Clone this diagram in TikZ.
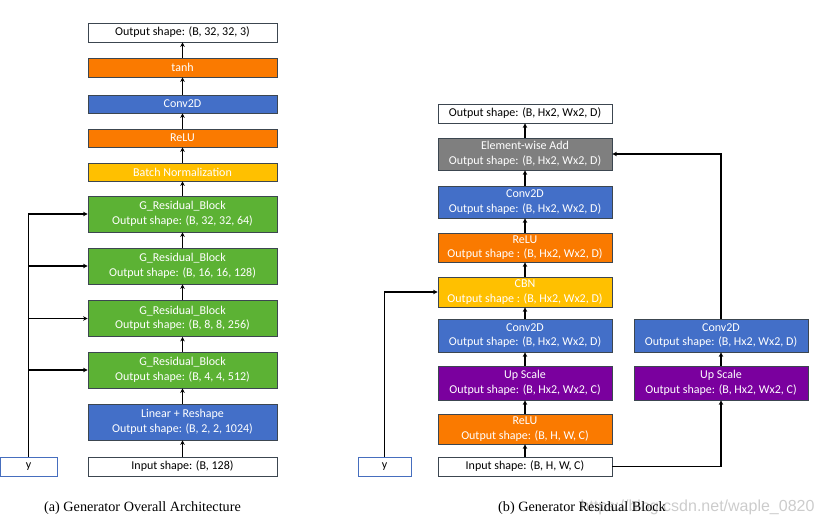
\documentclass[tikz,border=0pt]{standalone}
\usepackage{fontspec}
\setmainfont{Carlito}
\newfontfamily\capfont{Liberation Serif}
\newfontfamily\wmfont{Liberation Sans}
\usepackage{tikz}
\usetikzlibrary{arrows.meta}
\definecolor{boxline}{RGB}{60,70,80}
\definecolor{gorange}{RGB}{250,122,0}
\definecolor{gblue}{RGB}{67,111,200}
\definecolor{ggreen}{RGB}{92,178,52}
\definecolor{gyellow}{RGB}{255,192,0}
\definecolor{gpurple}{RGB}{122,0,158}
\definecolor{ggray}{RGB}{127,127,127}
\definecolor{yline}{RGB}{70,110,190}

\begin{document}
\begin{tikzpicture}[x=1pt,y=-1pt,>={Stealth[length=4.5pt,width=4.5pt]},
  layer/.style={draw=boxline,line width=0.8pt,rectangle,inner sep=0pt,align=center,
    font=\fontsize{12}{14.5}\selectfont,text=white},
  wbox/.style={layer,fill=white,text=black},
  ybox/.style={draw=yline,line width=0.8pt,rectangle,inner sep=0pt,fill=white,
    font=\fontsize{12}{14.5}\selectfont},
  link/.style={->,line width=1.3pt},
  cond/.style={->,line width=1.7pt}]
\useasboundingbox (0,0) rectangle (828,527);

% (a) overall architecture
\node[wbox,minimum width=189,minimum height=19] (outa) at (182.5,32.5) {Output shape: (B, 32, 32, 3)};
\node[layer,fill=gorange,minimum width=189,minimum height=19] (tanh) at (182.5,67.5) {tanh};
\node[layer,fill=gblue,minimum width=189,minimum height=18] (conva) at (182.5,104) {Conv2D};
\node[layer,fill=gorange,minimum width=189,minimum height=18] (relua) at (182.5,138) {ReLU};
\node[layer,fill=gyellow,minimum width=189,minimum height=18] (bn) at (182.5,172) {Batch Normalization};
\node[layer,fill=ggreen,minimum width=189,minimum height=36] (g1) at (182.5,214) {G\_Residual\_Block\\Output shape: (B, 32, 32, 64)};
\node[layer,fill=ggreen,minimum width=189,minimum height=36] (g2) at (182.5,266) {G\_Residual\_Block\\Output shape: (B, 16, 16, 128)};
\node[layer,fill=ggreen,minimum width=189,minimum height=36] (g3) at (182.5,318.5) {G\_Residual\_Block\\Output shape: (B, 8, 8, 256)};
\node[layer,fill=ggreen,minimum width=189,minimum height=36] (g4) at (182.5,370) {G\_Residual\_Block\\Output shape: (B, 4, 4, 512)};
\node[layer,fill=gblue,minimum width=189,minimum height=36] (lin) at (182.5,422) {Linear + Reshape\\Output shape: (B, 2, 2, 1024)};
\node[wbox,minimum width=189,minimum height=19] (ina) at (182.5,466.5) {Input shape: (B, 128)};
\node[ybox,minimum width=57,minimum height=19] (ya) at (28.5,466.5) {y};

\draw[link] (ina) -- (lin); \draw[link] (lin) -- (g4); \draw[link] (g4) -- (g3);
\draw[link] (g3) -- (g2); \draw[link] (g2) -- (g1); \draw[link] (g1) -- (bn);
\draw[link] (bn) -- (relua); \draw[link] (relua) -- (conva); \draw[link] (conva) -- (tanh);
\draw[link] (tanh) -- (outa);
\draw[cond] (ya.north) |- (g1.west);
\foreach \g in {g2,g3,g4} \draw[cond] (ya.north |- \g.west) -- (\g.west);

\node[font=\capfont\fontsize{14.2}{16}\selectfont] (capa) at (142.5,508) {(a) Generator Overall Architecture};

% (b) residual block
\node[wbox,minimum width=174,minimum height=19] (outb) at (525,113.5) {Output shape: (B, Hx2, Wx2, D)};
\node[layer,fill=ggray,minimum width=174,minimum height=32] (add) at (525,154) {Element-wise Add\\Output shape: (B, Hx2, Wx2, D)};
\node[layer,fill=gblue,minimum width=174,minimum height=32] (convb) at (525,202) {Conv2D\\Output shape: (B, Hx2, Wx2, D)};
\node[layer,fill=gorange,minimum width=174,minimum height=29] (relub) at (525,247.5) {ReLU\\Output shape : (B, Hx2, Wx2, D)};
\node[layer,fill=gyellow,minimum width=174,minimum height=30] (cbn) at (525,292) {CBN\\Output shape : (B, Hx2, Wx2, D)};
\node[layer,fill=gblue,minimum width=174,minimum height=33] (convc) at (525,335.5) {Conv2D\\Output shape: (B, Hx2, Wx2, D)};
\node[layer,fill=gpurple,minimum width=174,minimum height=34] (up) at (525,383) {Up Scale\\Output shape: (B, Hx2, Wx2, C)};
\node[layer,fill=gorange,minimum width=174,minimum height=30] (reluc) at (525,429) {ReLU\\Output shape: (B, H, W, C)};
\node[wbox,minimum width=174,minimum height=19] (inb) at (525,466.5) {Input shape: (B, H, W, C)};
\node[ybox,minimum width=53,minimum height=19] (yb) at (384.5,466.5) {y};
\node[layer,fill=gblue,minimum width=174,minimum height=33] (convs) at (721,335.5) {Conv2D\\Output shape: (B, Hx2, Wx2, D)};
\node[layer,fill=gpurple,minimum width=174,minimum height=34] (ups) at (721,383) {Up Scale\\Output shape: (B, Hx2, Wx2, C)};

\draw[link] (inb) -- (reluc); \draw[link] (reluc) -- (up); \draw[link] (up) -- (convc);
\draw[link] (convc) -- (cbn); \draw[link] (cbn) -- (relub); \draw[link] (relub) -- (convb);
\draw[link] (convb) -- (add); \draw[link] (add) -- (outb);
\draw[link] (yb.north) |- (cbn.west);
\draw[link] (inb.east) -| (ups.south);
\draw[link] (ups) -- (convs);
\draw[link] (convs.north) |- (add.east);

\node[anchor=east,text=gray!40,font=\wmfont\fontsize{16}{18}\selectfont] (wm) at (818,507) {https://blog.csdn.net/waple\_0820};
\node[font=\capfont\fontsize{14.2}{16}\selectfont] (capb) at (582,508) {(b) Generator Residual Block};
\end{tikzpicture}
\end{document}
